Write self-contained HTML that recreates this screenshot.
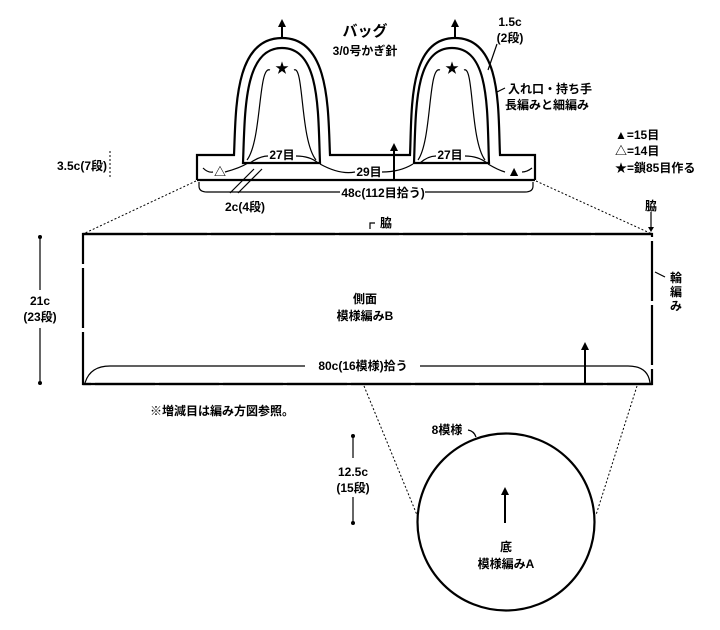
<html><body style="margin:0;background:#fff">
<svg width="720" height="630" viewBox="0 0 720 630" xmlns="http://www.w3.org/2000/svg" font-family="Liberation Sans, Noto Sans CJK JP, sans-serif" font-weight="bold" font-size="12" fill="#000">
<g fill="none" stroke="#000" stroke-width="2.2">
<path d="M197,180 V155 H234 C236,110 234,38 282,38 C330,38 328,110 330,155 H410 C412,110 408,38 455,38 C502,38 498,110 500,155 H535 V180"/>
<path d="M243,163 C245,110 244,48 282,48 C320,48 318,110 320,163 Z"/>
<path d="M414,163 C416,110 414,48 452,48 C490,48 487,110 489,163 Z"/>
<line x1="197" y1="180" x2="535" y2="180"/>
<rect x="83" y="234" width="569" height="150" stroke-dasharray="60,4"/>
<line x1="83" y1="234" x2="652" y2="234"/>
<line x1="83" y1="384" x2="652" y2="384"/>
<circle cx="506" cy="522" r="88.5"/>
</g>
<g fill="none" stroke="#000" stroke-width="1.2">
<path d="M247,160 C262,140 258,65 270,70"/><path d="M316,160 C300,140 304,65 294,70"/>
<path d="M418,160 C432,140 428,65 440,70"/><path d="M485,160 C470,140 474,65 464,70"/>
<path d="M199,182 V186 Q199,192 207,192 H340"/><path d="M425,192 H525 Q533,192 533,186 V182"/>
<path d="M85,383 Q90,366 110,366 H305"/><path d="M420,366 H628 Q648,366 650,383"/>
<path d="M203,168 Q208,173 213,172"/><path d="M225,172 Q240,168 248,163"/><path d="M250,163 Q260,156 268,156"/><path d="M296,156 Q310,156 318,163"/>
<path d="M320,164 Q340,175 355,172"/><path d="M382,172 Q400,172 413,164"/>
<path d="M420,163 Q428,156 436,156"/><path d="M465,156 Q478,156 487,163"/><path d="M488,164 Q498,170 505,172"/><path d="M522,172 Q527,172 532,168"/>
<line x1="230" y1="193" x2="254" y2="169"/><line x1="238" y1="193" x2="262" y2="169"/>
<line x1="488" y1="70" x2="497" y2="44"/><line x1="497" y1="92" x2="505" y2="88"/>
<line x1="40" y1="237" x2="40" y2="290"/><line x1="40" y1="328" x2="40" y2="383"/>
<line x1="353" y1="436" x2="353" y2="458"/><line x1="353" y1="497" x2="353" y2="523"/>
<path d="M370,229 V223 H375"/>
<line x1="651" y1="212" x2="651" y2="228"/>
<line x1="655" y1="272" x2="665" y2="277"/>
<path d="M468,430 Q474,431 476,437"/>
</g>
<g stroke="#000" stroke-width="1" stroke-dasharray="2,2" fill="none">
<line x1="196" y1="181" x2="83" y2="234"/><line x1="536" y1="181" x2="652" y2="234"/>
<line x1="364" y1="386" x2="417" y2="515"/><line x1="637" y1="386" x2="596" y2="515"/>
<line x1="110" y1="151" x2="110" y2="178"/>
</g>
<g stroke="#000" stroke-width="2">
<line x1="282" y1="38" x2="282" y2="26"/><line x1="455" y1="38" x2="455" y2="26"/>
<line x1="394" y1="180" x2="394" y2="150"/><line x1="585" y1="384" x2="585" y2="350"/>
<line x1="505" y1="523" x2="505" y2="494"/>
</g>
<g>
<path d="M282,19 l-4,8 h8z"/><path d="M455,19 l-4,8 h8z"/><path d="M394,143 l-4,8 h8z"/><path d="M585,342 l-4,8 h8z"/><path d="M505,487 l-4,8 h8z"/><path d="M651,232 l-3,-5 h6z"/>
<circle cx="40" cy="237" r="2"/><circle cx="40" cy="383" r="2"/><circle cx="353" cy="436" r="2"/><circle cx="353" cy="523" r="2"/>
</g>
<text x="365" y="36" font-size="15" text-anchor="middle">バッグ</text>
<text x="365" y="55" text-anchor="middle">3/0号かぎ針</text>
<text x="282" y="73" text-anchor="middle" font-size="14">★</text><text x="452" y="73" text-anchor="middle" font-size="14">★</text>
<text x="510" y="26" text-anchor="middle">1.5c</text><text x="510" y="42" text-anchor="middle">(2段)</text>
<text x="508" y="93">入れ口・持ち手</text><text x="505" y="109">長編みと細編み</text>
<text x="615" y="139">▲=15目</text><text x="615" y="155">△=14目</text><text x="615" y="172">★=鎖85目作る</text>
<text x="220" y="176" text-anchor="middle">△</text><text x="514" y="176" text-anchor="middle" font-size="14">▲</text>
<text x="282" y="159" text-anchor="middle">27目</text><text x="450" y="159" text-anchor="middle">27目</text>
<text x="369" y="176" text-anchor="middle">29目</text>
<text x="383" y="197" text-anchor="middle">48c(112目拾う)</text>
<text x="245" y="211" text-anchor="middle">2c(4段)</text>
<text x="57" y="170">3.5c(7段)</text>
<text x="386" y="227" text-anchor="middle">脇</text><text x="651" y="210" text-anchor="middle">脇</text>
<text x="676" y="282" text-anchor="middle">輪</text><text x="676" y="296" text-anchor="middle">編</text><text x="676" y="310" text-anchor="middle">み</text>
<text x="40" y="305" text-anchor="middle">21c</text><text x="40" y="321" text-anchor="middle">(23段)</text>
<text x="365" y="303" text-anchor="middle">側面</text><text x="365" y="320" text-anchor="middle">模様編みB</text>
<text x="363" y="370" text-anchor="middle">80c(16模様)拾う</text>
<text x="150" y="415">※増減目は編み方図参照。</text>
<text x="353" y="476" text-anchor="middle">12.5c</text><text x="353" y="492" text-anchor="middle">(15段)</text>
<text x="447" y="434" text-anchor="middle">8模様</text>
<text x="506" y="551" text-anchor="middle">底</text><text x="506" y="568" text-anchor="middle">模様編みA</text>
</svg>
</body></html>
